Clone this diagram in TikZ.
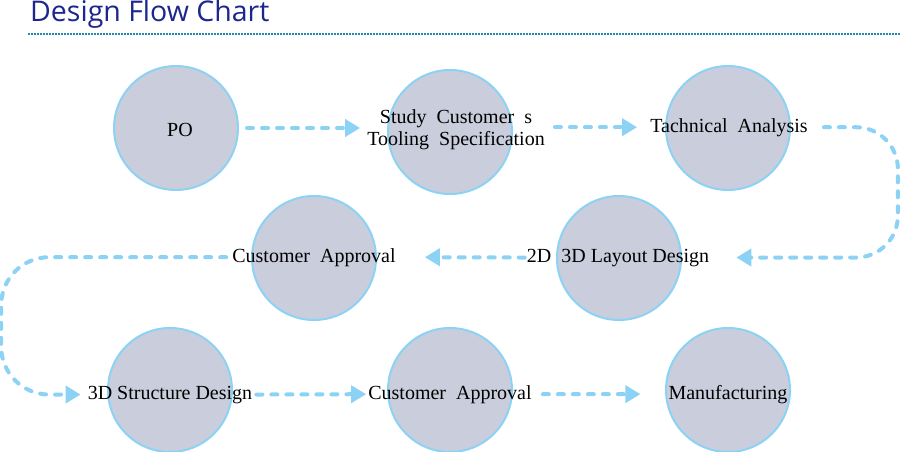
\documentclass[tikz,border=0pt]{standalone}
\usepackage{fontspec}
\setmainfont{Liberation Serif}
\newfontfamily\titlefont{Open Sans}
\usetikzlibrary{arrows.meta}
\definecolor{ballfill}{RGB}{202,205,219}
\definecolor{skyline}{RGB}{140,210,244}
\definecolor{titleblue}{RGB}{28,38,140}
\definecolor{rulecol}{RGB}{40,135,175}

\begin{document}
\begin{tikzpicture}[x=1pt,y=-1pt,
  ball/.style={circle,fill=ballfill,draw=skyline,line width=2pt,minimum size=124pt,inner sep=0pt},
  txt/.style={inner sep=0pt,anchor=base,font=\fontsize{20}{22}\selectfont},
  flow/.style={skyline,line width=4pt,line cap=round,dash pattern=on 6pt off 9pt,
    -{Triangle[length=15pt,width=17pt,line cap=butt]}}]
  \useasboundingbox (0,0) rectangle (900,452);
  \node[anchor=base west,inner sep=0pt,text=titleblue,font=\titlefont\fontsize{28.5}{30}\selectfont] (title) at (30,22) {Design Flow Chart};
  \draw[rulecol,line width=1.5pt,dash pattern=on 1.5pt off 1.5pt] (28,34) -- (900,34);

  % circles
  \node[ball] (po) at (176,128) {};
  \node[ball] (study) at (450,132) {};
  \node[ball] (tech) at (728,128) {};
  \node[ball] (appr1) at (314,258) {};
  \node[ball] (layout) at (619,258) {};
  \node[ball] (struct) at (170,390) {};
  \node[ball] (appr2) at (450,390) {};
  \node[ball] (manu) at (728,390) {};

  % labels
  \node[txt] (pot) at (180,136) {PO};
  \node[txt,anchor=center,align=center] (studyt) at (456,130) {Study\ \ Customer\ \ s\\Tooling\ \ Specification};
  \node[txt] (techt) at (729,132) {Tachnical\ \ Analysis};
  \node[txt] (appr1t) at (314,262) {Customer\ \ Approval};
  \node[txt] (layoutt) at (618,262) {2D\ \ 3D Layout Design};
  \node[txt] (structt) at (170,399) {3D Structure Design};
  \node[txt] (appr2t) at (450,399) {Customer\ \ Approval};
  \node[txt] (manut) at (728,399) {Manufacturing};

  % connectors
  \draw[flow] ([xshift=8pt]po.east) -- ([xshift=-7pt]po.east -| studyt.west);
  \draw[flow] ([xshift=10pt]studyt.east |- techt.west) -- ([xshift=-13pt]techt.west);
  \draw[flow,rounded corners=42pt] ([xshift=16pt]techt.east) -- ++(74,0) |- ([xshift=27pt]layoutt.east);
  \draw[flow] ([xshift=-2pt]layoutt.west) -- ([xshift=29pt]appr1t.east);
  \draw[flow,rounded corners=48pt] ([xshift=-6pt]appr1t.west) -- ++(-225,0) |- ([xshift=-7pt]structt.west);
  \draw[flow] ([xshift=4pt]structt.east) -- ([xshift=-2pt]appr2t.west);
  \draw[flow] ([xshift=11pt]appr2t.east) -- ([xshift=-28pt]manut.west);
\end{tikzpicture}
\end{document}
